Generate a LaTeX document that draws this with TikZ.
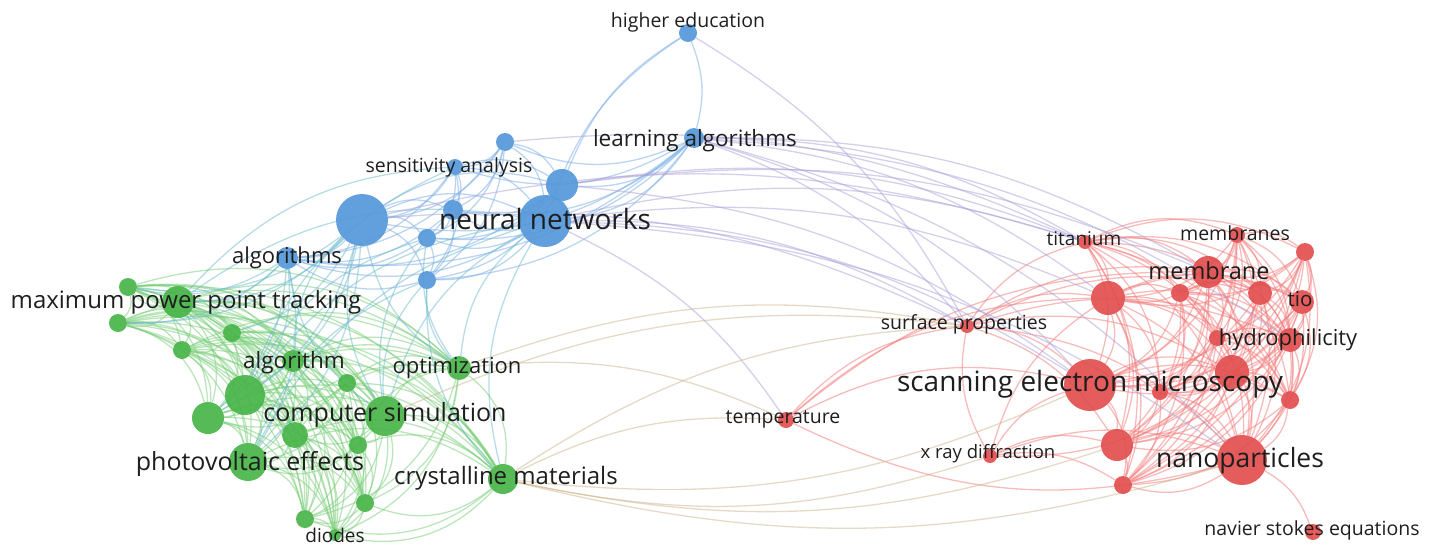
\documentclass[tikz,border=0pt]{standalone}
\usepackage{fontspec}
\setmainfont{Open Sans}
\usetikzlibrary{positioning}
\pgfdeclarelayer{back}
\pgfsetlayers{back,main}
\definecolor{kwblue}{RGB}{84,152,218}
\definecolor{kwgreen}{RGB}{72,180,72}
\definecolor{kwred}{RGB}{226,78,78}
\definecolor{lnblue}{RGB}{120,172,228}
\definecolor{lngreen}{RGB}{120,205,120}
\definecolor{lnred}{RGB}{242,120,120}
\definecolor{lnteal}{RGB}{110,185,205}
\definecolor{lnviolet}{RGB}{170,160,215}
\definecolor{lntan}{RGB}{205,180,140}
\definecolor{inkgray}{RGB}{30,30,30}

\begin{document}
\begin{tikzpicture}[x=1pt,y=-1pt,
  kw/.style={circle,inner sep=0pt,minimum size=#1*2pt,opacity=.92},
  bkw/.style={kw=#1,fill=kwblue},
  gkw/.style={kw=#1,fill=kwgreen},
  rkw/.style={kw=#1,fill=kwred},
  link/.style={line width=1.3pt,opacity=.5},
  lbl/.style={text=inkgray,inner sep=0pt,anchor=base}]
\useasboundingbox (0,0) rectangle (1437,546);

% clusters
\foreach \n/\x/\y/\r in {he/688/33/9,la/694/138/10,b1/505/142/9,sa/455/167/8,
  b2/362/220/26,b3/562/185/16,nn/545/221/26,b4/453/210/10,b5/427/238/9,
  b6/427/280/9,alg/287/258/11}
  \node[bkw=\r] (\n) at (\x,\y) {};
\foreach \n/\x/\y/\r in {mppt/178/302/16,g1/128/287/9,g2/118/323/9,g3/232/333/9,
  g4/182/350/9,algo/293/361/11,g5/347/383/9,g6/245/395/20,g7/208/418/16,
  cs/385/416/20,g8/295/435/13,g9/358/445/9,pv/248/462/19,opt/459/368/12,
  cm/503/479/15,g10/365/503/9,g11/305/519/9,di/335/535/6}
  \node[gkw=\r] (\n) at (\x,\y) {};
\foreach \n/\x/\y/\r in {sp/967/326/7,ti/1085/242/7,mbs/1237/235/8,r1/1305/252/9,
  mb/1208/272/16,r2/1108/298/17,r3/1180/293/9,r4/1260/293/12,tio/1302/302/12,
  r5/1217/338/8,hy/1290/340/12,sem/1090/385/26,r6/1232/372/17,r7/1160/392/8,
  r8/1290/400/9,r9/1117/445/16,xrd/990/456/7,np/1242/460/25,r10/1123/485/9,
  ns/1313/532/8,te/786/420/8}
  \node[rkw=\r] (\n) at (\x,\y) {};

\begin{pgfonlayer}{back}
\foreach \a [count=\i] in {mppt,g1,g2,g3,g4,algo,g5,g6,g7,cs,g8,g9,pv,opt,cm,g10,g11,di}
  \foreach \b [count=\j] in {mppt,g1,g2,g3,g4,algo,g5,g6,g7,cs,g8,g9,pv,opt,cm,g10,g11,di}
    {\ifnum\j>\i \draw[link,lngreen] (\a) to[bend left=30] (\b); \fi}
\foreach \a [count=\i] in {la,b1,sa,b2,b3,nn,b4,b5,b6,alg}
  \foreach \b [count=\j] in {la,b1,sa,b2,b3,nn,b4,b5,b6,alg}
    {\ifnum\j>\i \draw[link,lnblue] (\a) to[bend left=24] (\b); \fi}
\foreach \a [count=\i] in {ti,mbs,r1,mb,r2,r3,r4,tio,r5,hy,sem,r6,r7,r8,r9,np,r10}
  \foreach \b [count=\j] in {ti,mbs,r1,mb,r2,r3,r4,tio,r5,hy,sem,r6,r7,r8,r9,np,r10}
    {\ifnum\j>\i \draw[link,lnred] (\a) to[bend left=24] (\b); \fi}
\foreach \a/\b in {he/la,b3/he,nn/he}
  \draw[link,lnblue] (\a) to[bend left=18] (\b);
\foreach \a/\b in {sp/ti,sp/mb,sp/r2,sp/sem,sp/r6,sp/np,sp/r9,sp/r4,sp/hy,xrd/sp,
  te/sp,xrd/sem,xrd/r2,xrd/np,xrd/r9,xrd/r10,r6/xrd,te/sem,te/r2,np/te,te/mb,np/ns}
  \draw[link,lnred] (\a) to[bend left=20] (\b);
\foreach \a/\b in {b2/mppt,b2/g1,b2/g2,b2/g3,b2/g6,b2/g7,b2/pv,cs/b2,algo/b2,opt/b2,
  alg/mppt,alg/g1,alg/g2,alg/g6,alg/pv,alg/g7,cs/alg,cs/nn,opt/nn,cm/nn,g6/nn,pv/nn,
  mppt/nn,opt/b5,cs/b5,g6/b5,opt/b6,cs/b6,cm/b6,pv/b6,mppt/sa,g6/sa}
  \draw[link,lnteal] (\a) to[bend left=22] (\b);
\foreach \a/\b in {la/sp,la/ti,la/mb,la/sem,la/r2,la/np,la/hy,nn/sp,nn/ti,nn/sem,
  nn/r2,nn/np,nn/te,b3/ti,b3/sem,b3/mb,b2/ti,b2/sp,he/sp,b1/ti}
  \draw[link,lnviolet] (\a) to[bend left=15] (\b);
\foreach \a/\b in {cm/te,cm/sp,sem/cm,np/cm,xrd/cm,opt/sp,opt/te,cs/sp,r9/cm}
  \draw[link,lntan] (\a) to[bend left=15] (\b);
\end{pgfonlayer}

% labels
\foreach \n/\t/\s/\dx/\dy in {nn/neural networks/28/0/1,la/learning algorithms/22.5/1/2,
  sa/sensitivity analysis/19.5/-6/0,alg/algorithms/22/0/0,
  mppt/maximum power point tracking/24/8/0,algo/algorithm/22.5/1/1,
  opt/optimization/22/-2/0,cs/computer simulation/25/0/-1,
  pv/photovoltaic effects/25/2/2,cm/crystalline materials/24/3/-1,di/diodes/19/0/2,
  te/temperature/19.5/-3/-2,sp/surface properties/19.5/-3/-2,
  xrd/x ray diffraction/18.5/-2/-3,ti/titanium/19/-1/-2,mbs/membranes/19.5/-2/0,
  mb/membrane/23.5/1/1,tio/tio/20.5/-2/-1,hy/hydrophilicity/22/-2/0,
  sem/scanning electron microscopy/28/0/-1,np/nanoparticles/26.5/-2/0,
  ns/navier stokes equations/19.5/-1/-2,he/higher education/19.5/0/-11}
  \node[lbl,font=\fontsize{\s}{\s}\selectfont] (\n-l)
    at ([shift={(\dx,\dy+0.27*\s)}]\n.center) {\t};
\end{tikzpicture}
\end{document}
